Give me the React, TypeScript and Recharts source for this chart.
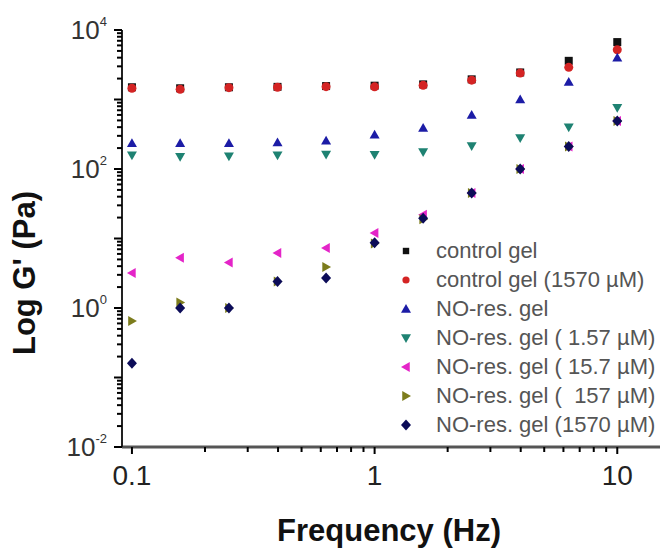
import { Legend, Scatter, ScatterChart, XAxis, YAxis } from "recharts";

// frequency (Hz)
const freq = [0.1, 0.158, 0.251, 0.398, 0.631, 1, 1.585, 2.512, 3.981, 6.31, 10];

// G' (Pa) per sample
const controlGel = [1500, 1450, 1500, 1520, 1560, 1580, 1650, 1950, 2450, 3600, 6700];
const controlGel1570 = [1450, 1400, 1480, 1500, 1530, 1520, 1600, 1900, 2400, 2900, 5200];
const noResGel = [235, 235, 235, 240, 255, 310, 390, 600, 1000, 1780, 4000];
const noResGel157 = [158, 150, 152, 158, 162, 160, 175, 215, 280, 400, 760];
const noResGel15_7 = [3.2, 5.3, 4.5, 6.2, 7.3, 12, 22, 45, 100, 210, 490];
const noResGel157uM = [0.65, 1.2, 1.0, 2.4, 3.9, 8.5, 19, 45, 100, 210, 490];
const noResGel1570 = [0.16, 1.0, 1.0, 2.4, 2.7, 8.7, 19.5, 45, 100, 210, 490];

// axis ticks
const xDecades = [0.1, 1];
const yDecades = [0.01, 0.1, 1, 10, 100, 1000];
const mantissas = [1, 2, 3, 4, 5, 6, 7, 8, 9];
const xTicks = [...xDecades.flatMap((d) => mantissas.map((m) => +(d * m).toPrecision(3))), 10];
const yTicks = [...yDecades.flatMap((d) => mantissas.map((m) => +(d * m).toPrecision(3))), 10000];
const yLabelExp = [-2, 0, 2, 4];

type Kind = "square" | "circle" | "up" | "down" | "left" | "right" | "diamond";

const series: { name: string; values: number[]; color: string; kind: Kind }[] = [
  { name: "control gel", values: controlGel, color: "#111111", kind: "square" },
  { name: "control gel (1570 \u00b5M)", values: controlGel1570, color: "#d42424", kind: "circle" },
  { name: "NO-res. gel", values: noResGel, color: "#1c1ca6", kind: "up" },
  { name: "NO-res. gel ( 1.57 \u00b5M)", values: noResGel157, color: "#1e8272", kind: "down" },
  { name: "NO-res. gel ( 15.7 \u00b5M)", values: noResGel15_7, color: "#e424c8", kind: "left" },
  { name: "NO-res. gel (  157 \u00b5M)", values: noResGel157uM, color: "#7c7c1c", kind: "right" },
  { name: "NO-res. gel (1570 \u00b5M)", values: noResGel1570, color: "#0c0c58", kind: "diamond" },
];

const FONT = "'Liberation Sans', Arial, sans-serif";

const Marker = ({ cx, cy, kind, color, r = 5 }: { cx: number; cy: number; kind: Kind; color: string; r?: number }) => {
  switch (kind) {
    case "square":
      return <rect x={cx - r * 0.8} y={cy - r * 0.8} width={r * 1.6} height={r * 1.6} fill={color} />;
    case "circle":
      return <circle cx={cx} cy={cy} r={r * 0.9} fill={color} />;
    case "up":
      return <polygon points={`${cx},${cy - r} ${cx + r},${cy + r * 0.75} ${cx - r},${cy + r * 0.75}`} fill={color} />;
    case "down":
      return <polygon points={`${cx},${cy + r} ${cx + r},${cy - r * 0.75} ${cx - r},${cy - r * 0.75}`} fill={color} />;
    case "left":
      return <polygon points={`${cx - r},${cy} ${cx + r * 0.75},${cy - r} ${cx + r * 0.75},${cy + r}`} fill={color} />;
    case "right":
      return <polygon points={`${cx + r},${cy} ${cx - r * 0.75},${cy - r} ${cx - r * 0.75},${cy + r}`} fill={color} />;
    default:
      return <polygon points={`${cx},${cy - r * 1.1} ${cx + r},${cy} ${cx},${cy + r * 1.1} ${cx - r},${cy}`} fill={color} />;
  }
};

const isDecade = (v: number) => Math.abs(Math.log10(v) - Math.round(Math.log10(v))) < 1e-6;

const XTick = (props: any) => {
  const { x, y, payload } = props;
  const v = payload.value;
  const major = isDecade(v);
  return (
    <g>
      <path d={`M${x},${y} L${x},${y + (major ? 7 : 5)}`} stroke="#000" strokeWidth={2} fill="none" />
      {major && (
        <text x={x} y={y + 38} textAnchor="middle" fontSize={28} fill="#222" fontFamily={FONT}>
          {String(v)}
        </text>
      )}
    </g>
  );
};

const YTick = (props: any) => {
  const { x, y, payload } = props;
  const v = payload.value;
  const major = isDecade(v);
  const e = Math.round(Math.log10(v));
  return (
    <g>
      <path d={`M${x},${y} L${x - (major ? 8 : 5)},${y}`} stroke="#000" strokeWidth={2} fill="none" />
      {major && yLabelExp.includes(e) && (
        <text x={x - 15} y={y + 9} textAnchor="end" fontSize={26} fill="#333" fontFamily={FONT}>
          <tspan>10</tspan>
          <tspan dy={-13} fontSize={13}>
            {String(e)}
          </tspan>
        </text>
      )}
    </g>
  );
};

const LegendBox = () => (
  <div style={{ fontFamily: FONT, fontSize: 22, color: "#555" }}>
    {series.map((s) => (
      <div key={s.name} style={{ display: "flex", alignItems: "center", height: 29, whiteSpace: "pre" }}>
        <svg width={24} height={20} style={{ marginRight: 18 }}>
          <Marker cx={12} cy={10} kind={s.kind} color={s.color} r={s.kind === "square" || s.kind === "circle" ? 4 : 5} />
        </svg>
        <span>{s.name}</span>
      </div>
    ))}
  </div>
);

export default function App() {
  return (
    <div style={{ position: "absolute", left: 0, top: 0, background: "#fff" }}>
      <ScatterChart width={665} height={549} margin={{ top: 30, right: 5, bottom: 0, left: 0 }}>
        <XAxis
          dataKey="x"
          type="number"
          scale="log"
          domain={[0.091, 15]}
          allowDataOverflow
          ticks={xTicks}
          interval={0}
          tickSize={0}
          tickMargin={0}
          tick={<XTick />}
          height={102}
          axisLine={{ stroke: "#555", strokeWidth: 3 }}
          label={() => (
            <text x={389} y={541} textAnchor="middle" fontSize={31} fontWeight="bold" fill="#111" fontFamily={FONT}>
              Frequency (Hz)
            </text>
          )}
        />
        <YAxis
          dataKey="y"
          type="number"
          scale="log"
          domain={[0.01, 10000]}
          allowDataOverflow
          ticks={yTicks}
          interval={0}
          tickSize={0}
          tickMargin={0}
          tick={<YTick />}
          width={122}
          axisLine={{ stroke: "#222", strokeWidth: 2 }}
          label={() => (
            <text
              x={35}
              y={273}
              transform="rotate(-90, 35, 273)"
              textAnchor="middle"
              fontSize={31}
              fontWeight="bold"
              fill="#111"
              fontFamily={FONT}
            >
              Log G' (Pa)
            </text>
          )}
        />
        <Legend
          layout="vertical"
          align="center"
          verticalAlign="middle"
          content={<LegendBox />}
          wrapperStyle={{ left: 394, top: 236, width: 280 }}
        />
        {series.map((s) => (
          <Scatter
            key={s.name}
            name={s.name}
            data={freq.map((f, i) => ({ x: f, y: s.values[i] }))}
            isAnimationActive={false}
            shape={(p: any) => <Marker cx={p.cx} cy={p.cy} kind={s.kind} color={s.color} />}
          />
        ))}
      </ScatterChart>
    </div>
  );
}
